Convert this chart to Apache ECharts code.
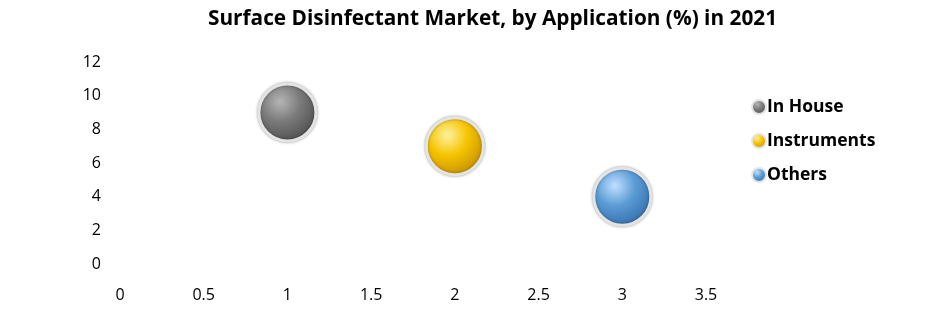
<!DOCTYPE html>
<html><head><meta charset="utf-8">
<script src="https://cdn.jsdelivr.net/npm/echarts@6/dist/echarts.min.js"></script>
<style>html,body{margin:0;padding:0;background:#fff}#c{width:941px;height:324px}</style>
</head><body><div id="c"></div>
<script>
const seriesNames = ['In House', 'Instruments', 'Others'];
const xValues = [1, 2, 3];
const yValues = [9, 7, 4];
const baseColors = [['#b5b5b5', '#7a7a7a', '#4a4a4a'], ['#fff2a0', '#f5c400', '#c08a00'], ['#bfe0ff', '#5b9bd5', '#2f6aa8']];

function grad(c) {
  return new echarts.graphic.RadialGradient(0.38, 0.32, 0.75, [
    {offset: 0, color: c[0]}, {offset: 0.45, color: c[1]}, {offset: 1, color: c[2]}
  ]);
}
const chart = echarts.init(document.getElementById('c'));
chart.setOption({
  animation: false,
  title: {text: 'Surface Disinfectant Market, by Application (%) in 2021', left: 203, top: 4,
    textStyle: {fontFamily: 'Open Sans', fontWeight: 'bold', fontSize: 20.8, color: '#000'}},
  grid: {left: 120, right: 235, top: 62, bottom: 60},
  xAxis: {type: 'value', min: 0, max: 3.5, interval: 0.5,
    axisLine: {show: false}, axisTick: {show: false}, splitLine: {show: false},
    axisLabel: {fontFamily: 'Open Sans', fontSize: 16, color: '#000', margin: 23}},
  yAxis: {type: 'value', min: 0, max: 12, interval: 2,
    axisLine: {show: false}, axisTick: {show: false}, splitLine: {show: false},
    axisLabel: {fontFamily: 'Open Sans', fontSize: 16, color: '#000', margin: 19}},
  legend: {orient: 'vertical', left: 746, top: 93, itemGap: 16, itemWidth: 14, itemHeight: 14,
    icon: 'circle', textStyle: {fontFamily: 'Open Sans', fontWeight: 'bold', fontSize: 17.5, color: '#000', padding: [0,0,0,-4]}},
  series: seriesNames.map((n, i) => ({
    name: n, type: 'scatter', symbolSize: 57,
    data: [[xValues[i], yValues[i]]],
    itemStyle: {color: grad(baseColors[i]), borderColor: '#e4e4e4', borderWidth: 3, opacity: 1,
      shadowBlur: 3, shadowColor: 'rgba(0,0,0,0.35)'}
  }))
});
</script></body></html>
